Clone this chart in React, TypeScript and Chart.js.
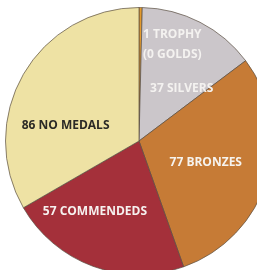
import React, { useEffect, useRef } from "react";
import { Chart, registerables } from "chart.js";

Chart.register(...registerables);

const categories = ["1 TROPHY (0 GOLDS)", "37 SILVERS", "77 BRONZES", "57 COMMENDEDS", "86 NO MEDALS"];
const values = [1, 37, 77, 57, 86];
const colors = ["#E39A2C", "#CBC6CA", "#C67B36", "#A4303A", "#EEE2A4"];
const labelLines = [["1 TROPHY", "(0 GOLDS)"], ["37 SILVERS"], ["77 BRONZES"], ["57 COMMENDEDS"], ["86 NO MEDALS"]];
const labelColors = ["#f4f2f0", "#f4f2f0", "#f6f3ee", "#f6f1ef", "#2b2a26"];

// label anchors relative to pie centre, in radius units (layout only)
const labelAnchors = [
  { dx: 0.03, dy: -0.8, align: "left" as CanvasTextAlign, lineGap: 0.15 },
  { dx: 0.32, dy: -0.39, align: "center" as CanvasTextAlign, lineGap: 0 },
  { dx: 0.5, dy: 0.16, align: "center" as CanvasTextAlign, lineGap: 0 },
  { dx: -0.33, dy: 0.525, align: "center" as CanvasTextAlign, lineGap: 0 },
  { dx: -0.55, dy: -0.115, align: "center" as CanvasTextAlign, lineGap: 0 },
];

const labelPlugin = {
  id: "sliceLabels",
  afterDatasetsDraw(chart: any) {
    const meta = chart.getDatasetMeta(0);
    const arc = meta.data[0];
    if (!arc) return;
    const { x, y, outerRadius } = arc.getProps(["x", "y", "outerRadius"], true);
    const ctx = chart.ctx;
    ctx.save();
    ctx.font = "700 12px 'Open Sans', sans-serif";
    ctx.textBaseline = "middle";
    labelLines.forEach((lines, i) => {
      const a = labelAnchors[i];
      ctx.fillStyle = labelColors[i];
      ctx.textAlign = a.align;
      lines.forEach((t, j) => {
        ctx.fillText(t, x + a.dx * outerRadius, y + (a.dy + j * a.lineGap) * outerRadius);
      });
    });
    ctx.restore();
  },
};

export default function App() {
  const ref = useRef<HTMLCanvasElement>(null);
  useEffect(() => {
    if (!ref.current) return;
    const chart = new Chart(ref.current, {
      type: "pie",
      data: {
        labels: categories,
        datasets: [
          {
            data: values,
            backgroundColor: colors,
            borderColor: "rgba(90,78,66,0.7)",
            borderWidth: 1,
          },
        ],
      },
      options: {
        animation: false,
        responsive: false,
        maintainAspectRatio: false,
        rotation: 0,
        layout: { padding: { left: 4, right: 4, top: 7, bottom: 5 } },
        plugins: { legend: { display: false }, tooltip: { enabled: false } },
      },
      plugins: [labelPlugin],
    });
    return () => chart.destroy();
  }, []);
  return (
    <div style={{ position: "fixed", left: 0, top: 0, width: 257, height: 270, overflow: "hidden", background: "#fff" }}>
      <canvas ref={ref} width={280} height={280} style={{ position: "absolute", left: -1, top: 0, width: 280, height: 280 }} />
    </div>
  );
}
